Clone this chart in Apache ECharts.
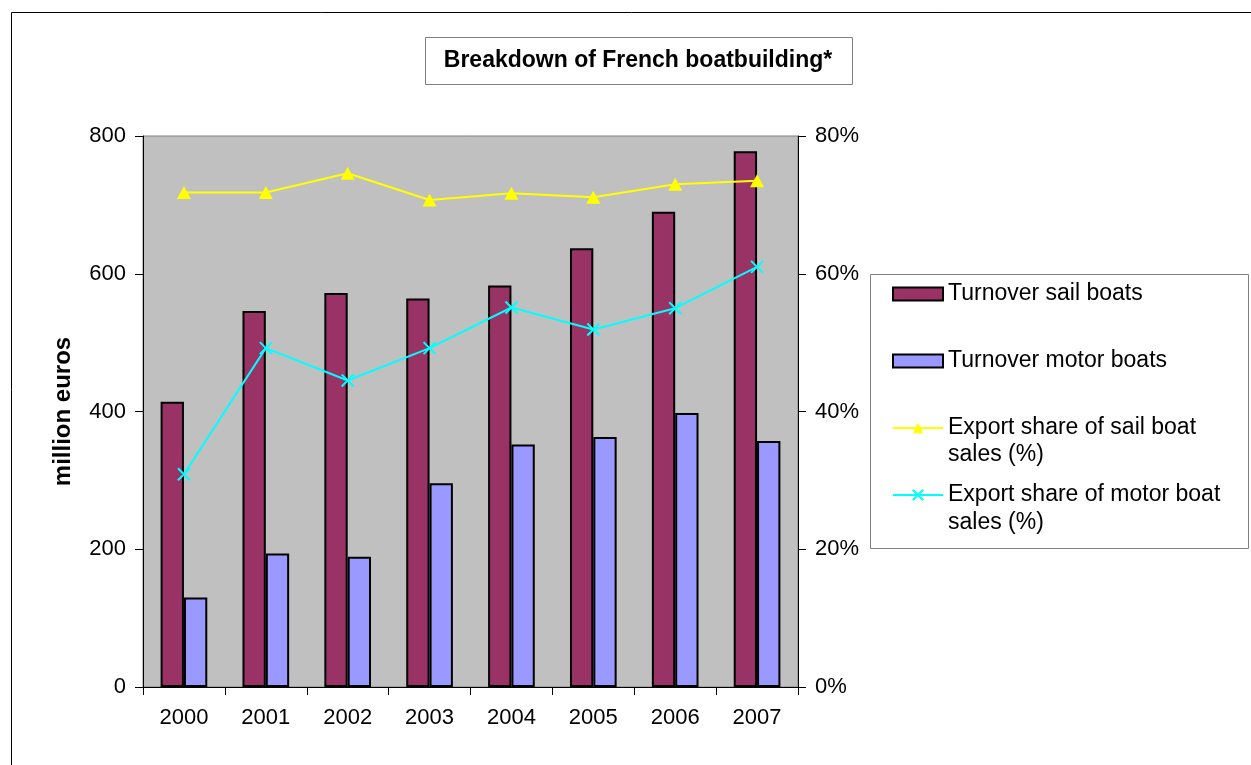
<!DOCTYPE html>
<html>
<head>
<meta charset="utf-8">
<script src="https://cdn.jsdelivr.net/npm/echarts@6/dist/echarts.min.js"></script>
<style>
  html, body { margin: 0; padding: 0; background: #fff; }
  #chart { width: 1251px; height: 765px; }
</style>
</head>
<body>
<div id="chart"></div>
<script>
const years = ['2000', '2001', '2002', '2003', '2004', '2005', '2006', '2007']
const sailTurnover = [414, 546, 572, 564, 583, 637, 690, 778]
const motorTurnover = [130, 194, 189, 296, 352, 363, 398, 357]
const sailExport = [71.8, 71.8, 74.6, 70.7, 71.7, 71.1, 73.0, 73.5]
const motorExport = [30.9, 49.2, 44.5, 49.2, 55.1, 51.9, 55.0, 61.0]

const leftTicks = { min: 0, max: 800, interval: 200 }
const rightTicks = { min: 0, max: 80, interval: 20 }

const FONT = 'Liberation Sans, Arial, sans-serif'
const crossSymbol = 'path://M0,0L10,10M0,10L10,0'

const chart = echarts.init(document.getElementById('chart'))

const option = {
  animation: false,
  backgroundColor: '#fff',
  textStyle: { fontFamily: FONT, color: '#000' },
  grid: {
    left: 143, right: 453, top: 136, bottom: 78,
    show: true,
    backgroundColor: '#c0c0c0',
    borderColor: '#808080',
    borderWidth: 1
  },
  graphic: [
    // outer chart frame
    { type: 'rect', shape: { x: 11.5, y: 12.5, width: 1300, height: 800 },
      style: { fill: 'none', stroke: '#000', lineWidth: 1 }, silent: true },
    // title box
    { type: 'rect', shape: { x: 425.5, y: 37.5, width: 427, height: 47 },
      style: { fill: '#fff', stroke: '#808080', lineWidth: 1 }, silent: true },
    { type: 'text', x: 638, y: 61,
      style: { text: 'Breakdown of French boatbuilding*', font: 'bold 23px ' + FONT,
        fill: '#000', align: 'center', verticalAlign: 'middle' } },
    // legend box
    { type: 'rect', shape: { x: 870.5, y: 274.5, width: 378, height: 274 },
      style: { fill: '#fff', stroke: '#808080', lineWidth: 1 }, silent: true, z: -1 },
    { type: 'text', x: 948, y: 455,
      style: { text: 'sales (%)', font: '23px ' + FONT, fill: '#000', verticalAlign: 'middle' } },
    { type: 'text', x: 948, y: 523,
      style: { text: 'sales (%)', font: '23px ' + FONT, fill: '#000', verticalAlign: 'middle' } }
  ],
  legend: {
    orient: 'vertical',
    left: 892,
    top: 282,
    padding: 0,
    itemWidth: 50,
    itemHeight: 13,
    itemGap: 43,
    textStyle: { fontSize: 23, lineHeight: 24, color: '#000', fontFamily: FONT },
    formatter: name => name.replace(/ sales \(%\)$/, ''),
    data: [
      { name: 'Turnover sail boats', icon: 'rect' },
      { name: 'Turnover motor boats', icon: 'rect' },
      { name: 'Export share of sail boat sales (%)' },
      { name: 'Export share of motor boat sales (%)' }
    ]
  },
  xAxis: {
    type: 'category',
    data: years,
    boundaryGap: true,
    axisLine: { lineStyle: { color: '#000', width: 1 } },
    axisTick: { show: true, length: 8, lineStyle: { color: '#000' } },
    axisLabel: { fontSize: 22, color: '#000', margin: 20, fontFamily: FONT }
  },
  yAxis: [
    {
      type: 'value',
      ...leftTicks,
      name: 'million euros',
      nameLocation: 'middle',
      nameGap: 68,
      nameTextStyle: { fontSize: 24, fontWeight: 'bold', color: '#000', fontFamily: FONT },
      axisLine: { show: true, lineStyle: { color: '#000', width: 1 } },
      axisTick: { show: true, length: 8, lineStyle: { color: '#000' } },
      axisLabel: { fontSize: 22, color: '#000', margin: 17, fontFamily: FONT },
      splitLine: { show: false }
    },
    {
      type: 'value',
      ...rightTicks,
      position: 'right',
      axisLine: { show: true, lineStyle: { color: '#000', width: 1 } },
      axisTick: { show: true, length: 8, lineStyle: { color: '#000' } },
      axisLabel: { fontSize: 22, color: '#000', margin: 17, fontFamily: FONT, formatter: '{value}%' },
      splitLine: { show: false }
    }
  ],
  series: [
    {
      name: 'Turnover sail boats',
      type: 'bar',
      data: sailTurnover,
      barGap: '0%',
      barCategoryGap: '43%',
      itemStyle: { color: '#993366', borderColor: '#000', borderWidth: 2 }
    },
    {
      name: 'Turnover motor boats',
      type: 'bar',
      data: motorTurnover,
      itemStyle: { color: '#9999ff', borderColor: '#000', borderWidth: 2 }
    },
    {
      name: 'Export share of sail boat sales (%)',
      type: 'line',
      yAxisIndex: 1,
      data: sailExport,
      symbol: 'triangle',
      symbolSize: [14, 13],
      itemStyle: { color: '#ffff00' },
      lineStyle: { color: '#ffff00', width: 2 }
    },
    {
      name: 'Export share of motor boat sales (%)',
      type: 'line',
      yAxisIndex: 1,
      data: motorExport,
      symbol: crossSymbol,
      symbolSize: 12,
      itemStyle: { color: '#00ffff', borderColor: '#00ffff', borderWidth: 2 },
      lineStyle: { color: '#00ffff', width: 2 }
    }
  ]
}

chart.setOption(option)
</script>
</body>
</html>
